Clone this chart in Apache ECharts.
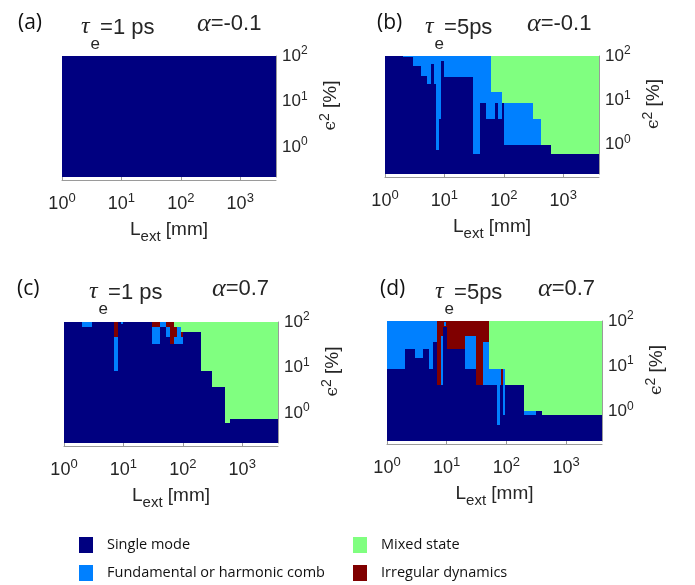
<!DOCTYPE html>
<html>
<head>
<meta charset="utf-8">
<script src="https://cdn.jsdelivr.net/npm/echarts@6/dist/echarts.min.js"></script>
<style>
  html, body { margin: 0; padding: 0; background: #fff; }
  #chart { width: 695px; height: 585px; }
</style>
</head>
<body>
<div id="chart"></div>
<script>
// axis ranges (L_ext in mm, eps^2 in %)
const xRange = [1, 4000]
const yRange = [0.22, 100]
const states = ['Single mode', 'Fundamental or harmonic comb', 'Mixed state', 'Irregular dynamics']
const stateColors = ['#000080', '#0080ff', '#80ff80', '#800000']

// regions: [L from, L to, eps2 from, eps2 to, state] painted in order
const panelA = [
  [1, 4000, 0.22, 100, 0]
]
const panelB = [
  [1, 4000, 0.22, 100, 0],
  [2.04, 3.0, 96, 100, 1],
  [3.0, 4.0, 60, 100, 1],
  [4.0, 5.06, 35, 100, 1],
  [5.06, 5.98, 24, 100, 1],
  [5.98, 6.6, 65, 100, 1],
  [6.6, 7.18, 24, 100, 1],
  [7.18, 7.96, 0.78, 100, 1],
  [7.96, 8.83, 3.87, 100, 1],
  [8.83, 9.93, 77, 100, 1],
  [9.93, 30.3, 33, 100, 1],
  [30.3, 40.2, 0.62, 100, 1],
  [40.2, 50.8, 8.7, 100, 1],
  [50.8, 72.1, 3.87, 100, 1],
  [72.1, 80.0, 8.7, 100, 1],
  [80.0, 93.5, 3.87, 100, 1],
  [93.5, 99.7, 8.7, 100, 1],
  [99.7, 415, 0.97, 100, 1],
  [60.9, 93.5, 15.1, 100, 2],
  [93.5, 308, 8.7, 100, 2],
  [308, 415, 3.87, 100, 2],
  [415, 612, 0.97, 100, 2],
  [612, 4000, 0.62, 100, 2]
]
const panelC = [
  [1, 4000, 0.22, 100, 0],
  [2.0, 2.94, 76, 100, 1],
  [7.04, 8.0, 46, 100, 3],
  [7.04, 8.0, 8.4, 46, 1],
  [9.1, 9.9, 90, 100, 1],
  [30.6, 41.3, 76, 100, 3],
  [30.6, 41.3, 33, 76, 1],
  [41.3, 51.5, 76, 100, 1],
  [51.5, 71.3, 76, 100, 3],
  [51.5, 61, 46, 76, 1],
  [61, 81.2, 46, 76, 3],
  [61, 71.3, 33, 46, 3],
  [71.3, 81.2, 33, 46, 1],
  [81.2, 92.5, 33, 76, 1],
  [92.5, 102.6, 46, 60, 3],
  [92.5, 102.6, 33, 46, 1],
  [71.3, 4000, 76, 100, 2],
  [92.5, 4000, 60.5, 76, 2],
  [102.6, 4000, 60.5, 100, 2],
  [202, 4000, 8.4, 100, 2],
  [309, 4000, 3.76, 100, 2],
  [515, 626, 0.6, 100, 2],
  [626, 4000, 0.74, 100, 2]
]
const panelD = [
  [1, 4000, 0.22, 100, 0],
  [1, 6.96, 8.6, 100, 1],
  [1.99, 3.0, 8.6, 24, 0],
  [3.0, 4.04, 8.6, 15.4, 0],
  [4.04, 5.1, 8.6, 24, 0],
  [5.96, 6.96, 8.6, 34, 0],
  [6.96, 50.4, 3.89, 100, 3],
  [7.92, 8.79, 3.89, 47.4, 1],
  [8.79, 10, 0.22, 74, 0],
  [9.02, 9.75, 78, 95, 1],
  [10, 20.4, 0.22, 24, 0],
  [20.4, 30.8, 8.6, 47.4, 1],
  [20.4, 30.8, 0.22, 8.6, 0],
  [39.9, 50.4, 3.89, 34, 1],
  [50.4, 4000, 8.6, 100, 2],
  [50.4, 96.2, 3.89, 8.6, 1],
  [82, 87.9, 3.89, 8.6, 3],
  [69.6, 77.2, 0.49, 3.89, 1],
  [87.9, 96.2, 0.81, 3.89, 1],
  [96.2, 4000, 3.89, 100, 2],
  [201, 4000, 1.0, 100, 2],
  [201, 308, 0.81, 1.0, 1],
  [399, 4000, 0.81, 1.0, 2]
]
const panels = [panelA, panelB, panelC, panelD]
const panelTags = ['(a)', '(b)', '(c)', '(d)']
const tauLabels = ['=1 ps', '=5ps', '=1 ps', '=5ps']
const alphaLabels = ['=-0.1', '=-0.1', '=0.7', '=0.7']

const grids = [
  { left: 62, top: 56, width: 214, height: 121 },
  { left: 385, top: 56, width: 214, height: 118 },
  { left: 64, top: 322, width: 214, height: 121 },
  { left: 387, top: 321, width: 215, height: 120 }
]
const titlePos = [
  { tag: [13, 8], tau: [76, 10], alpha: [192, 6] },
  { tag: [372, 8], tau: [420, 10], alpha: [522, 6] },
  { tag: [12, 274], tau: [84, 275], alpha: [207, 271] },
  { tag: [375, 274], tau: [430, 275], alpha: [533, 271] }
]

const txt = '#262626'
const sans = 'Liberation Sans'

function powLabel (v) {
  const n = Math.log10(v)
  if (Math.abs(n - Math.round(n)) > 1e-6) return ''
  return '{b|10}{s|' + Math.round(n) + '}'
}
function powRich (size) {
  return {
    b: { fontSize: size, fontFamily: sans, color: txt },
    s: { fontSize: Math.round(size * 0.72), fontFamily: sans, color: txt, padding: [0, 0, Math.round(size * 0.6), 0] }
  }
}

function renderRect (params, api) {
  const p0 = api.coord([api.value(0), api.value(3)])
  const p1 = api.coord([api.value(1), api.value(2)])
  const cs = params.coordSys
  const x0 = Math.round(p0[0])
  const y0 = Math.round(p0[1])
  const shape = echarts.graphic.clipRectByRect(
    { x: x0, y: y0, width: Math.round(p1[0]) - x0, height: Math.round(p1[1]) - y0 },
    { x: cs.x, y: cs.y, width: cs.width, height: cs.height }
  )
  return shape && { type: 'rect', shape: shape, style: { fill: stateColors[api.value(4)] } }
}

const titles = []
const xAxes = []
const yAxes = []
const series = []
panels.forEach(function (data, i) {
  const tp = titlePos[i]
  titles.push({
    text: panelTags[i], left: tp.tag[0], top: tp.tag[1],
    textStyle: { fontFamily: 'Open Sans', fontSize: 21, fontWeight: 'normal', color: '#111' }
  })
  titles.push({
    text: '{g|τ}{sub|e}{t|' + tauLabels[i] + '}', left: tp.tau[0], top: tp.tau[1],
    textStyle: {
      fontWeight: 'normal',
      rich: {
        g: { fontFamily: 'Liberation Serif', fontStyle: 'italic', fontWeight: 'normal', fontSize: 24, color: txt, verticalAlign: 'top' },
        sub: { fontFamily: sans, fontWeight: 'normal', fontSize: 17, color: txt, verticalAlign: 'top', padding: [21, 0, 0, 1] },
        t: { fontFamily: sans, fontWeight: 'normal', fontSize: 22, color: txt, verticalAlign: 'top', padding: [2, 0, 0, 0] }
      }
    }
  })
  titles.push({
    text: '{g|α}{t|' + alphaLabels[i] + '}', left: tp.alpha[0], top: tp.alpha[1],
    textStyle: {
      fontWeight: 'normal',
      rich: {
        g: { fontFamily: 'Liberation Serif', fontStyle: 'italic', fontWeight: 'normal', fontSize: 26, color: txt },
        t: { fontFamily: sans, fontWeight: 'normal', fontSize: 22, color: txt }
      }
    }
  })
  xAxes.push({
    type: 'log', gridIndex: i, min: xRange[0], max: xRange[1], logBase: 10,
    position: 'bottom', offset: 3,
    name: '{n|L}{sub|ext}{n| [mm]}', nameLocation: 'middle', nameGap: 35,
    nameTextStyle: {
      rich: {
        n: { fontFamily: sans, fontSize: 19, color: txt },
        sub: { fontFamily: sans, fontSize: 15, color: txt, padding: [14, 0, 0, 0] }
      }
    },
    axisLine: { show: true, lineStyle: { color: '#9a9a9a', width: 1 } },
    axisTick: { show: true, inside: true, length: 3, lineStyle: { color: '#9a9a9a' } },
    axisLabel: { formatter: powLabel, rich: powRich(18), margin: 12, showMaxLabel: false },
    splitLine: { show: false }
  })
  yAxes.push({
    type: 'log', gridIndex: i, min: yRange[0], max: yRange[1], logBase: 10,
    position: 'right',
    name: '{g|ϵ}{sup|2}{n| [%]}', nameLocation: 'middle', nameGap: 42, nameRotate: 90,
    nameTextStyle: {
      padding: [0, 0, 0, 22],
      rich: {
        g: { fontFamily: 'DejaVu Serif', fontSize: 17, color: txt },
        sup: { fontFamily: sans, fontSize: 14, color: txt, padding: [0, 0, 12, 0] },
        n: { fontFamily: sans, fontSize: 19, color: txt }
      }
    },
    axisLine: { show: true, lineStyle: { color: '#9a9a9a', width: 1 } },
    axisTick: { show: true, inside: true, length: 3, lineStyle: { color: '#9a9a9a' } },
    axisLabel: { formatter: powLabel, rich: powRich(17), margin: 6, showMinLabel: false },
    splitLine: { show: false }
  })
  series.push({
    type: 'custom', xAxisIndex: i, yAxisIndex: i,
    renderItem: renderRect, data: data, silent: true,
    encode: { x: [0, 1], y: [2, 3] }
  })
})
// empty series only to give the legend its entries
states.forEach(function (s, k) {
  series.push({
    name: s, type: 'custom', xAxisIndex: 0, yAxisIndex: 0,
    renderItem: renderRect, data: [], itemStyle: { color: stateColors[k] }
  })
})

const legendPos = [[74, 532], [74, 560], [348, 532], [348, 560]]
const legends = states.map(function (s, k) {
  return {
    data: [s], left: legendPos[k][0], top: legendPos[k][1],
    icon: 'rect', itemWidth: 14, itemHeight: 16, selectedMode: false,
    textStyle: { fontFamily: 'Open Sans', fontSize: 14.5, color: '#111', padding: [0, 0, 0, 9] }
  }
})

const option = {
  animation: false,
  title: titles,
  grid: grids,
  xAxis: xAxes,
  yAxis: yAxes,
  legend: legends,
  series: series
}

const chart = echarts.init(document.getElementById('chart'))
chart.setOption(option)
window.addEventListener('resize', function () { chart.resize() })
</script>
</body>
</html>
